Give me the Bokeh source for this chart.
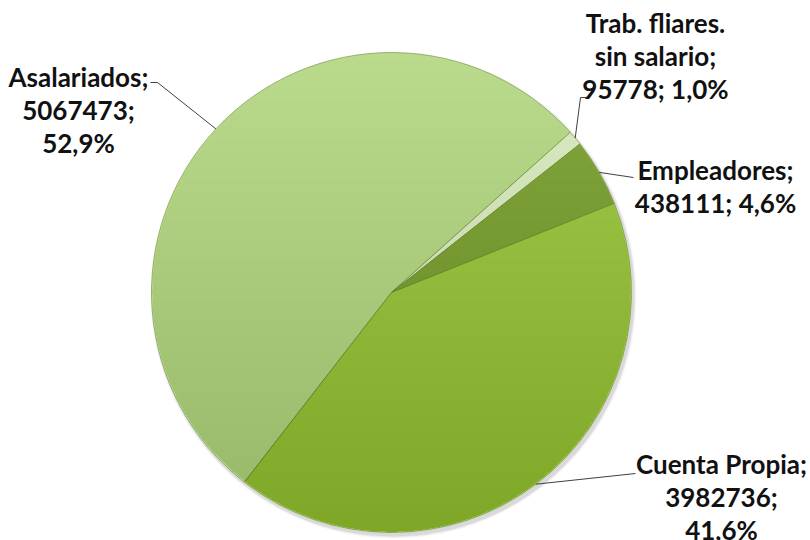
import numpy as np
from bokeh.plotting import figure
from bokeh.models import Range1d
from bokeh.core.properties import value
from bokeh.embed import file_html
from bokeh.resources import INLINE

# ---- data ----
categories = ["Asalariados", "Trab. fliares. sin salario", "Empleadores", "Cuenta Propia"]
values = [5067473, 95778, 438111, 3982736]
colors = ["#bbdb8c", "#dcedc4", "#84a740", "#a2ca4b"]

# ---- geometry (image pixel coordinates, y downward) ----
W, H = 810, 540
CX_IMG, CY_IMG, R = 391, 292, 240
FIRST_ANGLE_DEG = 232.2


def Y(y_img):
    return H - y_img


total = sum(values)
fracs = np.array(values, dtype=float) / total
cum = np.concatenate([[0.0], np.cumsum(fracs)])
first = np.deg2rad(FIRST_ANGLE_DEG)
starts = first - cum[:-1] * 2 * np.pi
ends = first - cum[1:] * 2 * np.pi
mids = (starts + ends) / 2

pct_txt = [f"{f * 100:.1f}".replace(".", ",") + "%" for f in fracs]
val_txt = [str(v) for v in values]

label_lines = [
    [categories[0] + ";", val_txt[0] + ";", pct_txt[0]],
    ["Trab. fliares.", "sin salario;", f"{val_txt[1]}; {pct_txt[1]}"],
    [categories[2] + ";", f"{val_txt[2]}; {pct_txt[2]}"],
    [categories[3] + ";", val_txt[3] + ";", pct_txt[3]],
]
label_x = [78, 655, 715, 721]
label_base0 = [76, 22, 169, 463]
LINE_STEP = 33
leader_elbows = [
    [(157, 82), (150, 82)],
    [(580, 97), (586, 97)],
    [(633, 177)],
    [(635, 473)],
]

p = figure(width=W, height=H, output_backend="svg", toolbar_location=None,
           x_range=Range1d(0, W), y_range=Range1d(0, H),
           min_border=0, outline_line_color=None)
p.axis.visible = False
p.grid.visible = False
p.background_fill_color = "white"
p.border_fill_color = "white"

cx, cy = CX_IMG, Y(CY_IMG)

# soft shadow
for k, a in [(6, 0.03), (4, 0.05), (2, 0.07)]:
    p.circle(x=[cx + 2], y=[cy - 3], radius=R + k * 0.5, fill_color="black",
             fill_alpha=a, line_color=None)

p.wedge(x=[cx] * len(values), y=[cy] * len(values), radius=R,
        start_angle=list(starts), end_angle=list(ends), direction="clock",
        fill_color=colors, line_color="#6d8a35", line_width=1, line_alpha=0.6)

# vertical shading (darker towards the bottom), stacked circle segments
N = 36
xs_sh, ys_sh = [], []
for k in range(N):
    yl = cy + R - (k + 0.5) * 2 * R / N
    s = np.clip((yl - cy) / R, -1, 1)
    t = np.linspace(np.pi - np.arcsin(s), 2 * np.pi + np.arcsin(s), 120)
    xs_sh.append(list(cx + (R - 0.5) * np.cos(t)))
    ys_sh.append(list(cy + (R - 0.5) * np.sin(t)))
p.patches(xs=xs_sh, ys=ys_sh, fill_color="black", fill_alpha=0.0055, line_color=None)

# leader lines
for i in range(len(values)):
    rx = CX_IMG + R * np.cos(mids[i])
    ry = CY_IMG - R * np.sin(mids[i])
    pts = [(rx, ry)] + leader_elbows[i]
    p.line(x=[q[0] for q in pts], y=[Y(q[1]) for q in pts],
           line_color="#404040", line_width=1)

# labels
for i, lines in enumerate(label_lines):
    xs = [label_x[i]] * len(lines)
    ys = [Y(label_base0[i] + j * LINE_STEP) for j in range(len(lines))]
    p.text(x=xs, y=ys, text=lines, text_align="center", text_baseline="alphabetic",
           text_font=value("Lato"), text_font_style="bold",
           text_font_size="26px", text_color="#111111")

open("out.html", "w").write(file_html(p, INLINE))
